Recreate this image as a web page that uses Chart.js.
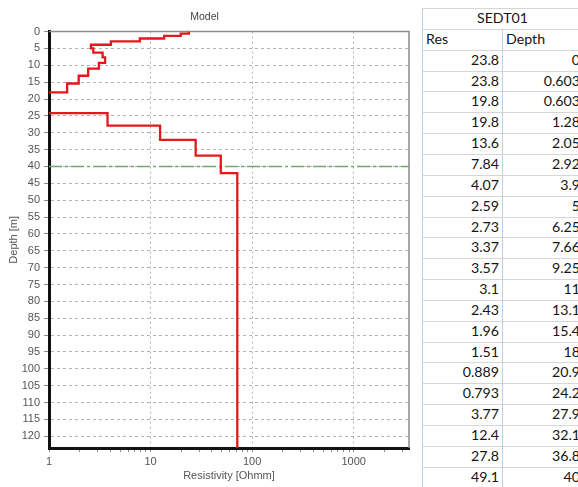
<!DOCTYPE html>
<html>
<head>
<meta charset="utf-8">
<script src="https://cdn.jsdelivr.net/npm/chart.js@4.4.1/dist/chart.umd.min.js"></script>
<style>
  html, body { margin: 0; padding: 0; background: #fff; }
  #wrap { position: relative; width: 578px; height: 487px; overflow: hidden; }
  #plot { position: absolute; left: 0; top: 0; }
  #tbl { position: absolute; left: 422px; top: 8px; font-family: Lato, 'Open Sans', sans-serif; font-size: 14.2px; color: #151515; }
  .cell { position: absolute; box-sizing: border-box; white-space: nowrap; overflow: hidden; }
  .hl { position: absolute; height: 1px; background: #d6d6d6; }
  .vl { position: absolute; width: 1px; background: #c3cfdf; }
</style>
</head>
<body>
<div id="wrap">
  <canvas id="plot" width="412" height="487"></canvas>
  <div id="tbl"></div>
</div>
<script>
// Layered model: resistivity of each layer (Ohmm) and depth of its base (m); last layer is the half-space
const layerRes  = [23.8, 19.8, 13.6, 7.84, 4.07, 2.59, 2.73, 3.37, 3.57, 3.1, 2.43, 1.96, 1.51, 0.889, 0.793, 3.77, 12.4, 27.8, 49.1, 71.4];
const layerBase = [0.603, 1.28, 2.05, 2.92, 3.9, 5, 6.25, 7.66, 9.25, 11, 13.1, 15.4, 18, 20.9, 24.2, 27.9, 32.1, 36.8, 42, null];

// Depth of investigation marker
const doiDepth = [40];

// Axis ticks
const depthTicks = [0, 5, 10, 15, 20, 25, 30, 35, 40, 45, 50, 55, 60, 65, 70, 75, 80, 85, 90, 95, 100, 105, 110, 115, 120];
const resMajorTicks = [1, 10, 100, 1000];
const resTickLabels = ['1', '10', '100', '1000'];
const resRange = [1, 3500];
const depthRange = [0, 123.5];

// Table listing
const tableTitle = 'SEDT01';
const tableHead = ['Res', 'Depth'];
const tableRes   = ['23.8', '23.8', '19.8', '19.8', '13.6', '7.84', '4.07', '2.59', '2.73', '3.37', '3.57', '3.1', '2.43', '1.96', '1.51', '0.889', '0.793', '3.77', '12.4', '27.8', '49.1'];
const tableDepth = ['0', '0.603', '0.603', '1.28', '2.05', '2.92', '3.9', '5', '6.25', '7.66', '9.25', '11', '13.1', '15.4', '18', '20.9', '24.2', '27.9', '32.1', '36.8', '40'];

// Step profile: each layer becomes a vertical segment from its top to its base
const profile = [];
let layerTop = depthRange[0];
layerRes.forEach((r, i) => {
  const base = layerBase[i] === null ? depthRange[1] : layerBase[i];
  profile.push({ x: r, y: layerTop });
  profile.push({ x: r, y: base });
  layerTop = base;
});

// Log ticks: majors at each decade, minors at 2..9
const resTicks = [];
resMajorTicks.forEach(d => {
  for (let m = 1; m <= 9; m++) {
    const v = d * m;
    if (v <= resRange[1]) resTicks.push(v);
  }
});
const isMajor = v => resMajorTicks.indexOf(v) !== -1;

Chart.defaults.font.family = "'Liberation Sans', Arial, sans-serif";

const framePlugin = {
  id: 'frame',
  beforeDatasetsDraw(chart) {
    const { ctx, chartArea: a } = chart;
    ctx.save();
    ctx.strokeStyle = '#8c8c8c';
    ctx.lineWidth = 1.5;
    ctx.beginPath();
    ctx.moveTo(a.left, a.top);
    ctx.lineTo(a.right, a.top);
    ctx.lineTo(a.right, a.bottom);
    ctx.stroke();
    ctx.restore();
  }
};

new Chart(document.getElementById('plot'), {
  type: 'scatter',
  data: {
    datasets: [
      {
        data: profile,
        showLine: true,
        borderColor: '#e3171c',
        borderWidth: 2.3,
        pointRadius: 0,
        tension: 0,
        clip: 0
      },
      {
        data: [{ x: resRange[0], y: doiDepth[0] }, { x: resRange[1], y: doiDepth[0] }],
        showLine: true,
        borderColor: '#6aae66',
        borderWidth: 1.5,
        borderDash: [13, 3, 3, 3],
        pointRadius: 0,
        clip: 0
      }
    ]
  },
  options: {
    responsive: false,
    animation: false,
    devicePixelRatio: 1,
    layout: { padding: { left: 0, right: 3, top: 0, bottom: 0 } },
    plugins: {
      legend: { display: false },
      tooltip: { enabled: false },
      title: {
        display: true,
        text: 'Model',
        color: '#444',
        font: { size: 10.5, weight: 'normal' },
        padding: { top: 11, bottom: 8 }
      }
    },
    scales: {
      x: {
        type: 'logarithmic',
        position: 'bottom',
        min: resRange[0],
        max: resRange[1],
        afterBuildTicks: s => { s.ticks = resTicks.map(v => ({ value: v, major: isMajor(v) })); },
        afterFit: s => { s.height = 39; },
        ticks: {
          autoSkip: false,
          maxRotation: 0,
          padding: 3,
          color: '#555',
          font: { size: 11 },
          callback: v => { const k = resMajorTicks.indexOf(v); return k === -1 ? '' : resTickLabels[k]; }
        },
        grid: {
          color: c => (c.tick && isMajor(c.tick.value)) ? '#b3b3b3' : 'rgba(0,0,0,0)',
          tickColor: '#8a8a8a',
          tickLength: 4,
          lineWidth: 1
        },
        border: { color: '#111', width: 3, dash: [2, 3] },
        title: {
          display: true,
          text: 'Resistivity [Ohmm]',
          color: '#555',
          font: { size: 11 },
          padding: { top: 0, bottom: 4 }
        }
      },
      y: {
        type: 'linear',
        reverse: true,
        min: depthRange[0],
        max: depthRange[1],
        afterBuildTicks: s => { s.ticks = depthTicks.map(v => ({ value: v })); },
        afterFit: s => { s.width = 49; },
        ticks: {
          autoSkip: false,
          padding: 4,
          color: '#555',
          font: { size: 11 },
          callback: v => String(v)
        },
        grid: {
          color: '#b3b3b3',
          tickColor: '#8a8a8a',
          tickLength: 5,
          lineWidth: 1
        },
        border: { color: '#111', width: 3, dash: [3, 3] },
        title: {
          display: true,
          text: 'Depth [m]',
          color: '#555',
          font: { size: 11 },
          padding: { top: 7, bottom: 0 }
        }
      }
    }
  },
  plugins: [framePlugin]
});

// Table beside the plot
(function buildTable() {
  const el = document.getElementById('tbl');
  const rowH = 20.85, c1 = 80, c2 = 81, total = c1 + c2;
  const nRows = 2 + tableRes.length;
  function add(cls, css, text) {
    const d = document.createElement('div');
    d.className = cls;
    Object.assign(d.style, css);
    if (text !== undefined) d.textContent = text;
    el.appendChild(d);
  }
  function cell(text, left, topPx, width, align) {
    add('cell', {
      left: left + 'px', top: topPx + 'px', width: width + 'px', height: rowH + 'px',
      lineHeight: rowH + 'px', textAlign: align,
      paddingLeft: align === 'left' ? '4px' : '0', paddingRight: align === 'right' ? '3px' : '0'
    }, text);
  }
  for (let i = 0; i <= nRows; i++) {
    add('hl', { left: '0px', top: (i * rowH) + 'px', width: total + 'px' });
  }
  add('vl', { left: '0px', top: '0px', height: (nRows * rowH) + 'px' });
  add('vl', { left: c1 + 'px', top: rowH + 'px', height: ((nRows - 1) * rowH) + 'px' });
  cell(tableTitle, 0, 0, total, 'center');
  cell(tableHead[0], 0, rowH, c1, 'left');
  cell(tableHead[1], c1, rowH, c2, 'left');
  tableRes.forEach((r, i) => {
    const t = (i + 2) * rowH;
    cell(r, 0, t, c1, 'right');
    cell(tableDepth[i], c1, t, c2, 'right');
  });
})();
</script>
</body>
</html>
